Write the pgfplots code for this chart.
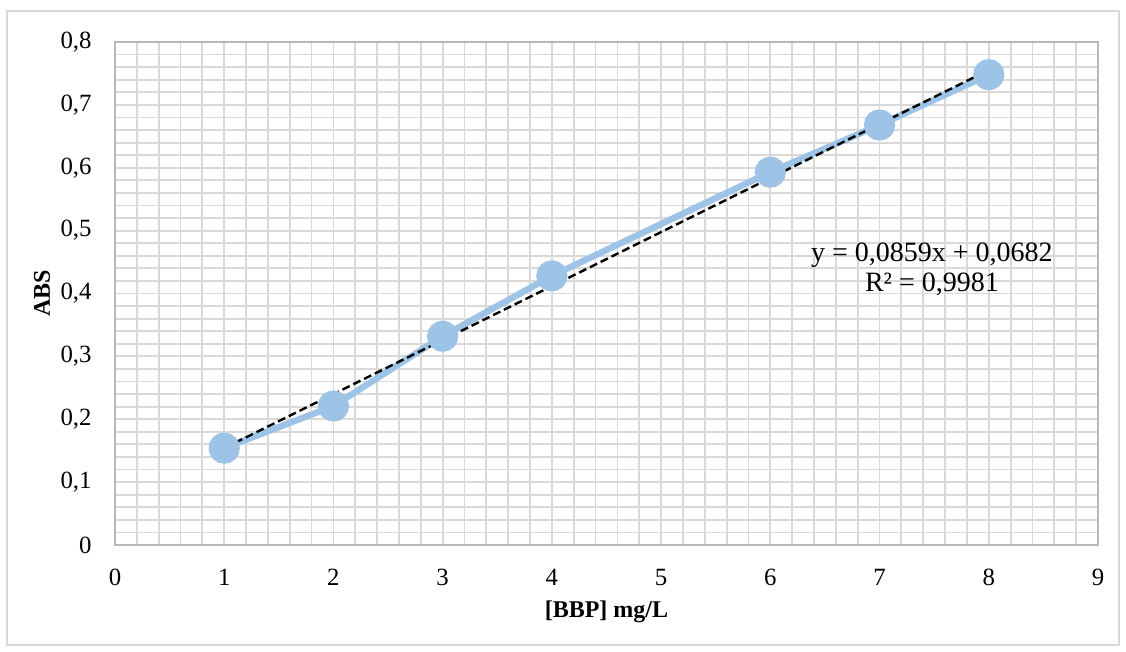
\documentclass[border=0pt]{standalone}
\usepackage{fontspec}
\setmainfont{Liberation Serif}
\usepackage{pgfplots}
\pgfplotsset{compat=1.18}

\definecolor{pointblue}{HTML}{9DC3E6}
\definecolor{gridgray}{HTML}{D9D9D9}
\definecolor{framegray}{HTML}{D9D9D9}

\begin{document}
\begin{tikzpicture}
% page background and chart frame
\fill[white] (-57.5pt,-53.5pt) rectangle (505.5pt,272.5pt);
\draw[framegray, line width=1pt] (-54pt,-50pt) rectangle (502pt,267pt);

\begin{axis}[
    scale only axis,
    width=491.5pt,
    height=251.5pt,
    xmin=0, xmax=9,
    ymin=0, ymax=0.8,
    xtick={0,1,...,9},
    ytick={0,0.1,...,0.8},
    minor x tick num=4,
    minor y tick num=4,
    major tick length=0pt,
    minor tick length=0pt,
    grid=both,
    grid style={line width=0.9pt, draw=gridgray},
    major grid style={line width=0.9pt, draw=gridgray},
    axis line style={line width=0.9pt, draw=black!28},
    /pgf/number format/assume math mode=true,
    /pgf/number format/use comma,
    /pgf/number format/fixed,
    ticklabel style={font=\fontsize{12.4}{14}\selectfont},
    yticklabel style={inner sep=0pt, anchor=east, xshift=-11.5pt},
    xticklabel style={inner sep=0pt, anchor=north, yshift=-11.7pt},
    xlabel={[BBP] mg/L},
    ylabel={ABS},
    label style={font=\fontsize{12}{14}\selectfont\bfseries},
    xlabel style={at={(axis description cs:0.5,-0.1325)}, anchor=center},
    ylabel style={at={(axis description cs:-0.0743,0.5)}, anchor=center},
]
% measured points
\addplot[color=pointblue, line width=3.2pt, mark=*, mark size=6.2pt,
         mark options={fill=pointblue, draw=none}]
  coordinates {
    (1, 0.154)
    (2, 0.221)
    (3, 0.332)
    (4, 0.428)
    (6, 0.593)
    (7, 0.668)
    (8, 0.748)
};
% linear trendline y = 0.0859x + 0.0682
\addplot[black, line width=1.2pt, dash pattern=on 4pt off 2pt] coordinates {
    (1, 0.1541)
    (8, 0.7554)
};
\node[align=center, font=\fontsize{14}{15}\selectfont]
  at (axis cs:7.48,0.439) {y = 0,0859x + 0,0682\\R² = 0,9981};
\end{axis}
\end{tikzpicture}
\end{document}
